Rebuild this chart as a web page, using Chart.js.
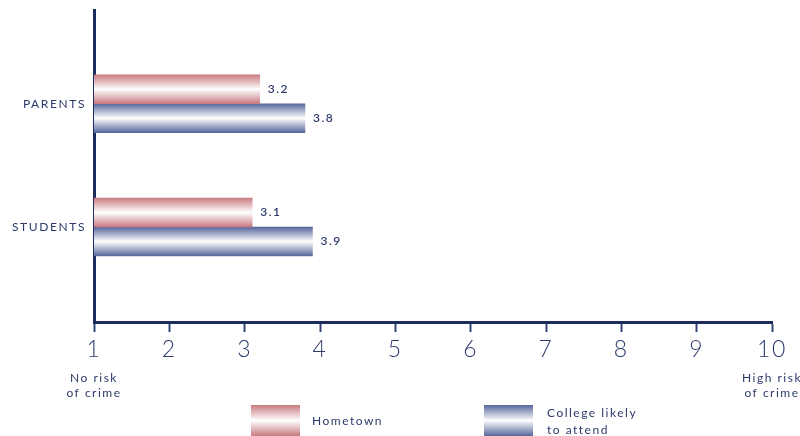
<!DOCTYPE html>
<html>
<head>
<meta charset="utf-8">
<script src="https://cdn.jsdelivr.net/npm/chart.js@4/dist/chart.umd.min.js"></script>
<style>
  html, body { margin: 0; padding: 0; background: #fff; }
  #wrap { position: relative; width: 800px; height: 436px; overflow: hidden; }
  #wrap canvas { position: absolute; left: 0; top: 0; }
  .key { position: absolute; font: 12px Lato, sans-serif; letter-spacing: 1.5px; color: #2c3a6a; line-height: 17px; }
  .swatch { position: absolute; width: 49px; height: 31px; }
</style>
</head>
<body>
<div id="wrap">
  <canvas id="riskChart"></canvas>
  <div class="swatch" style="left:251px; top:405px; background:linear-gradient(#c77a80, #fff 50%, #c77a80);"></div>
  <div class="key" style="left:312px; top:412px;">Hometown</div>
  <div class="swatch" style="left:484px; top:405px; background:linear-gradient(#56669a, #fff 50%, #56669a);"></div>
  <div class="key" style="left:547px; top:404px;">College likely<br>to attend</div>
</div>
<script>
const categories = ['PARENTS', 'STUDENTS'];
const seriesNames = ['Hometown', 'College likely to attend'];
const hometown = [3.2, 3.1];
const college = [3.8, 3.9];
const xTicks = [1, 2, 3, 4, 5, 6, 7, 8, 9, 10];
const lowEnd = ['No risk', 'of crime'];
const highEnd = ['High risk', 'of crime'];

const NAVY = '#1c2a5c';
const TEXT = '#2c3a6a';
const BAR = 29;

// vertical white-in-the-middle gradient for each bar
function barFill(edge) {
  return (c) => {
    const chart = c.chart;
    const y = chart.scales && chart.scales.y;
    if (c.type !== 'data' || !y || !c.parsed) return edge;
    const center = y.getPixelForValue(c.parsed.y);
    if (!Number.isFinite(center)) return edge;
    const top = center - BAR + c.datasetIndex * BAR;
    const g = chart.ctx.createLinearGradient(0, top, 0, top + BAR);
    g.addColorStop(0, edge);
    g.addColorStop(0.5, '#ffffff');
    g.addColorStop(1, edge);
    return g;
  };
}

// letter spacing for all canvas text (context state is reset on resize)
const tracking = {
  id: 'tracking',
  beforeDraw(chart) { chart.ctx.letterSpacing = '1.6px'; }
};

// value labels next to bars and the scale-end captions
const annotations = {
  id: 'annotations',
  afterDatasetsDraw(chart) {
    const ctx = chart.ctx;
    ctx.save();
    ctx.letterSpacing = '1.5px';
    ctx.fillStyle = TEXT;
    ctx.font = '600 12px Lato, sans-serif';
    ctx.textBaseline = 'middle';
    ctx.textAlign = 'left';
    chart.data.datasets.forEach((ds, di) => {
      chart.getDatasetMeta(di).data.forEach((bar, i) => {
        ctx.fillText(ds.data[i].x.toFixed(1), bar.x + 8, bar.y);
      });
    });
    const x = chart.scales.x;
    ctx.font = '12px Lato, sans-serif';
    ctx.textAlign = 'center';
    lowEnd.forEach((t, i) => ctx.fillText(t, x.getPixelForValue(xTicks[0]), 378 + i * 15));
    highEnd.forEach((t, i) => ctx.fillText(t, x.getPixelForValue(xTicks[xTicks.length - 1]), 378 + i * 15));
    ctx.restore();
  }
};

new Chart(document.getElementById('riskChart'), {
  type: 'bar',
  data: {
    datasets: [
      {
        label: seriesNames[0],
        data: hometown.map((v, i) => ({ x: v, y: i + 1 })),
        backgroundColor: barFill('#c77a80')
      },
      {
        label: seriesNames[1],
        data: college.map((v, i) => ({ x: v, y: i + 1 })),
        backgroundColor: barFill('#56669a')
      }
    ]
  },
  options: {
    indexAxis: 'y',
    responsive: true,
    maintainAspectRatio: false,
    animation: false,
    barThickness: BAR,
    layout: { padding: { top: 10, right: 28, left: 0, bottom: 0 } },
    plugins: { legend: { display: false }, tooltip: { enabled: false } },
    scales: {
      x: {
        type: 'linear',
        min: xTicks[0],
        max: xTicks[xTicks.length - 1],
        afterBuildTicks: (s) => { s.ticks = xTicks.map(v => ({ value: v })); },
        afterFit: (s) => { s.height = 114; },
        border: { display: true, color: NAVY, width: 3 },
        grid: { drawOnChartArea: false, drawTicks: true, tickLength: 10, tickWidth: 2, tickColor: '#34447a' },
        ticks: { color: TEXT, padding: 4, font: { family: 'Lato', size: 23, weight: 300 } }
      },
      y: {
        type: 'linear',
        offset: false,
        reverse: true,
        min: 0.24,
        max: 2.77,
        afterBuildTicks: (s) => { s.ticks = categories.map((_, i) => ({ value: i + 1 })); },
        afterFit: (s) => { s.width = 94; s.paddingTop = 0; s.paddingBottom = 0; },
        border: { display: true, color: NAVY, width: 3 },
        grid: { offset: false, drawOnChartArea: false, drawTicks: false },
        ticks: {
          color: TEXT,
          padding: 8,
          font: { family: 'Lato', size: 12 },
          callback: (v) => categories[v - 1]
        }
      }
    }
  },
  plugins: [tracking, annotations]
});
</script>
</body>
</html>
